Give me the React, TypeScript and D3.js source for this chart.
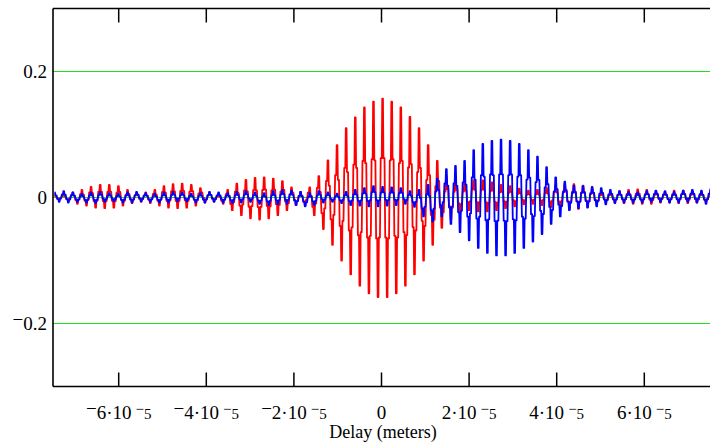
import React from "react";
import * as d3 from "d3";

const W = 710;
const H = 442;
const plotLeft = 53;
const plotRight = 710;
const plotTop = 8.5;
const plotBottom = 386.5;

const xDomain: [number, number] = [-7.5e-5, 7.5e-5];
const yDomain: [number, number] = [-0.3, 0.3];
const xTickValues = [-6e-5, -4e-5, -2e-5, 0, 2e-5, 4e-5, 6e-5];
const xTickMantissas = ["-6", "-4", "-2", "0", "2", "4", "6"];
const xTickExponent = "-5";
const yTickValues = [-0.2, 0, 0.2];
const yTickLabels = ["-0.2", "0", "0.2"];
const xAxisTitle = "Delay (meters)";

// fringe grid: peaks at centralFringeDelay + k * fringePeriod, k = -36..36
const fringePeriod = 2.08e-6;
const centralFringeDelay = 2.5e-7;
const firstFringeIndex = -36;

// red: peak values (k = -36..36)
const redPeaks = [
  0.004, 0.005, 0.008, 0.012, 0.017, 0.02, 0.02, 0.018, 0.012, 0.008,
  0.008, 0.012, 0.018, 0.021, 0.022, 0.02, 0.015, 0.008, 0.006, 0.012,
  0.022, 0.028, 0.031, 0.032, 0.03, 0.026, 0.016, 0.009, 0.016, 0.034,
  0.059, 0.083, 0.11, 0.127, 0.143, 0.152, 0.157, 0.152, 0.143, 0.128,
  0.11, 0.083, 0.058, 0.034, 0.028, 0.024, 0.027, 0.027, 0.024, 0.02,
  0.018, 0.014, 0.011, 0.012, 0.015, 0.019, 0.021, 0.021, 0.019, 0.014,
  0.009, 0.008, 0.01, 0.012, 0.013, 0.012, 0.01, 0.009, 0.011, 0.011,
  0.01, 0.008, 0.007,
];
// red: trough values (k = -35.5..35.5)
const redTroughs = [
  -0.004, -0.006, -0.01, -0.013, -0.016, -0.017, -0.016, -0.013, -0.009, -0.007,
  -0.009, -0.013, -0.016, -0.017, -0.016, -0.013, -0.008, -0.006, -0.01, -0.02,
  -0.028, -0.033, -0.035, -0.033, -0.028, -0.02, -0.012, -0.012, -0.028, -0.05,
  -0.075, -0.1, -0.122, -0.14, -0.152, -0.158, -0.158, -0.152, -0.14, -0.122,
  -0.1, -0.075, -0.048, -0.035, -0.025, -0.02, -0.022, -0.022, -0.02, -0.017,
  -0.014, -0.011, -0.01, -0.012, -0.015, -0.017, -0.018, -0.018, -0.015, -0.011,
  -0.008, -0.008, -0.009, -0.01, -0.01, -0.01, -0.008, -0.008, -0.009, -0.009,
  -0.008, -0.007,
];
// blue: peak values (k = -36..36)
const bluePeaks = [
  0.008, 0.01, 0.008, 0.006, 0.008, 0.009, 0.007, 0.006, 0.008, 0.009,
  0.007, 0.006, 0.008, 0.009, 0.008, 0.006, 0.007, 0.009, 0.008, 0.007,
  0.009, 0.01, 0.008, 0.007, 0.01, 0.012, 0.011, 0.009, 0.007, 0.01,
  0.008, 0.006, 0.009, 0.012, 0.015, 0.018, 0.017, 0.016, 0.015, 0.01,
  0.012, 0.02, 0.03, 0.045, 0.05, 0.058, 0.075, 0.085, 0.09, 0.092,
  0.09, 0.085, 0.075, 0.065, 0.048, 0.032, 0.025, 0.019, 0.018, 0.017,
  0.015, 0.012, 0.01, 0.009, 0.008, 0.01, 0.011, 0.01, 0.009, 0.011,
  0.012, 0.011, 0.013,
];
// blue: trough values (k = -35.5..35.5)
const blueTroughs = [
  -0.007, -0.008, -0.007, -0.008, -0.009, -0.007, -0.006, -0.008, -0.008, -0.006,
  -0.007, -0.008, -0.008, -0.006, -0.006, -0.008, -0.008, -0.007, -0.008, -0.009,
  -0.008, -0.007, -0.01, -0.012, -0.011, -0.01, -0.012, -0.014, -0.012, -0.008,
  -0.007, -0.009, -0.012, -0.013, -0.014, -0.014, -0.013, -0.012, -0.01, -0.015,
  -0.03, -0.038, -0.03, -0.042, -0.055, -0.068, -0.08, -0.088, -0.092, -0.092,
  -0.088, -0.08, -0.07, -0.058, -0.042, -0.03, -0.02, -0.017, -0.016, -0.014,
  -0.011, -0.009, -0.008, -0.008, -0.008, -0.007, -0.007, -0.008, -0.008, -0.007,
  -0.008, -0.01,
];

type Pt = { delay: number; value: number };

function interleave(peaks: number[], troughs: number[]): Pt[] {
  const out: Pt[] = [];
  for (let i = 0; i < peaks.length; i++) {
    out.push({ delay: centralFringeDelay + (firstFringeIndex + i) * fringePeriod, value: peaks[i] });
    if (i < troughs.length) {
      out.push({ delay: centralFringeDelay + (firstFringeIndex + i + 0.5) * fringePeriod, value: troughs[i] });
    }
  }
  return out;
}

// custom d3 curve: sampled-fringe look (narrow flat-topped spikes, steep strokes with small jogs)
function fringeCurve(context: any) {
  let x0 = 0, y0 = 0, n = 0;
  return {
    areaStart() {},
    areaEnd() {},
    lineStart() { n = 0; },
    lineEnd() {},
    point(x: number, y: number) {
      x = +x; y = +y;
      if (n === 0) context.moveTo(x, y);
      else {
        const dx = x - x0, dy = y - y0;
        context.lineTo(x0 + 0.08 * dx, y0);
        context.lineTo(x0 + 0.18 * dx, y0 + 0.3 * dy);
        context.lineTo(x0 + 0.42 * dx, y0 + 0.3 * dy);
        context.lineTo(x0 + 0.58 * dx, y0 + 0.7 * dy);
        context.lineTo(x0 + 0.82 * dx, y0 + 0.7 * dy);
        context.lineTo(x0 + 0.92 * dx, y);
        context.lineTo(x, y);
      }
      x0 = x; y0 = y; n++;
    },
  };
}

const FONT = "'Liberation Serif', 'Times New Roman', Times, serif";

function signed(str: string, lift: number) {
  if (str.startsWith("-")) {
    return [
      <tspan key="m" dy={-lift}>{"\u2212"}</tspan>,
      <tspan key="r" dy={lift}>{str.slice(1)}</tspan>,
    ];
  }
  return [<tspan key="r">{str}</tspan>];
}

export default function App() {
  const x = d3.scaleLinear().domain(xDomain).range([plotLeft, plotRight]);
  const y = d3.scaleLinear().domain(yDomain).range([plotBottom, plotTop]);
  const line = d3
    .line<Pt>()
    .x((d) => x(d.delay))
    .y((d) => y(d.value))
    .curve(fringeCurve as any);

  const red = interleave(redPeaks, redTroughs);
  const blue = interleave(bluePeaks, blueTroughs);

  return (
    <svg width={W} height={H} style={{ position: "absolute", left: 0, top: 0, background: "#fff" }}>
      <defs>
        <clipPath id="plot">
          <rect x={plotLeft} y={plotTop} width={plotRight - plotLeft} height={plotBottom - plotTop} />
        </clipPath>
      </defs>
      {yTickValues.map((v) => (
        <line key={"g" + v} x1={plotLeft} x2={plotRight} y1={y(v)} y2={y(v)} stroke="#1fe01f" strokeWidth={1} shapeRendering="crispEdges" />
      ))}
      <g clipPath="url(#plot)">
        <path d={line(red) || ""} fill="none" stroke="#ff0000" strokeWidth={1.8} strokeLinejoin="round" />
        <path d={line(blue) || ""} fill="none" stroke="#0000ff" strokeWidth={1.8} strokeLinejoin="round" />
      </g>
      {/* frame */}
      <line x1={plotLeft} x2={plotRight} y1={plotTop} y2={plotTop} stroke="#000" strokeWidth={1.6} />
      <line x1={plotLeft} x2={plotRight} y1={plotBottom} y2={plotBottom} stroke="#000" strokeWidth={1.6} />
      <line x1={plotLeft} x2={plotLeft} y1={plotTop} y2={plotBottom} stroke="#000" strokeWidth={1.6} />
      {xTickValues.map((v) => (
        <g key={"t" + v}>
          <line x1={x(v)} x2={x(v)} y1={plotBottom} y2={plotBottom - 14} stroke="#000" strokeWidth={1.5} />
          <line x1={x(v)} x2={x(v)} y1={plotTop} y2={plotTop + 14} stroke="#000" strokeWidth={1.5} />
        </g>
      ))}
      {xTickValues.map((v, i) => {
        const m = xTickMantissas[i];
        return (
          <text key={"xl" + v} x={x(v)} y={419} textAnchor="middle" fontFamily={FONT} fontSize={19} fill="#000">
            {m === "0"
              ? "0"
              : [
                  ...signed(m + "\u00b710", 4),
                  <tspan key="e" dx={4} dy={-11} fontSize={15}>
                    {signed(xTickExponent, 5)}
                  </tspan>,
                ]}
          </text>
        );
      })}
      {yTickValues.map((v, i) => (
        <text key={"yl" + v} x={47} y={y(v) + 6} textAnchor="end" fontFamily={FONT} fontSize={19} fill="#000">
          {signed(yTickLabels[i], 4)}
        </text>
      ))}
      <text x={383} y={438} textAnchor="middle" fontFamily={FONT} fontSize={18} fill="#000">
        {xAxisTitle}
      </text>
    </svg>
  );
}
